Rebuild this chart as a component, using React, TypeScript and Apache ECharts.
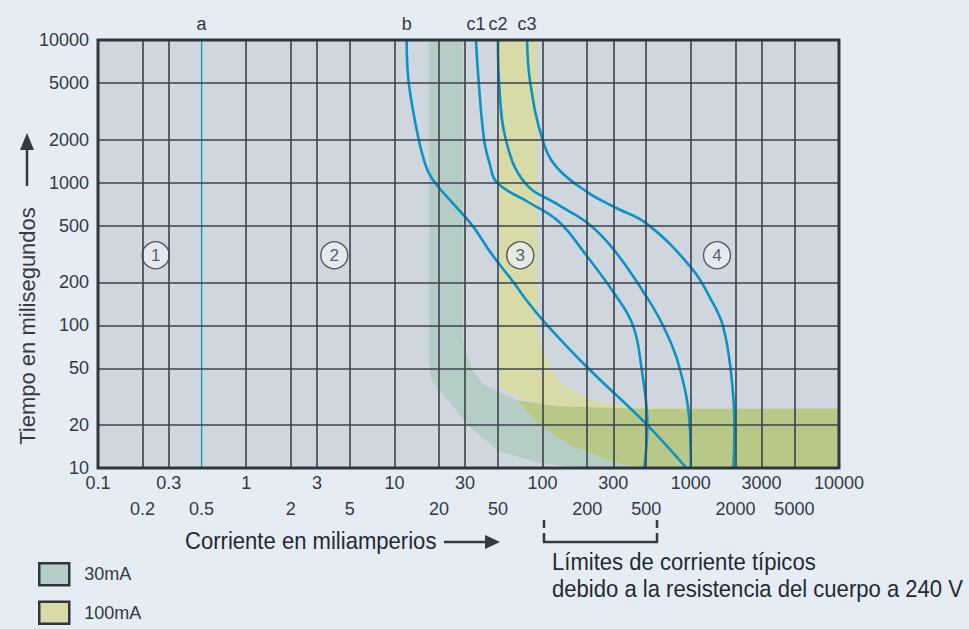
import React, { useEffect, useRef } from 'react';
import * as echarts from 'echarts';

// Axis labels and grid values
const X_LABELS_TOP = [0.1, 0.3, 1, 3, 10, 30, 100, 300, 1000, 3000, 10000];
const X_LABELS_BOTTOM = [0.2, 0.5, 2, 5, 20, 50, 200, 500, 2000, 5000];
const Y_LABELS = [10, 20, 50, 100, 200, 500, 1000, 2000, 5000, 10000];
const X_GRIDLINES = [0.2, 0.3, 1, 2, 3, 5, 10, 20, 30, 50, 100, 200, 300, 500, 1000, 2000, 3000, 5000];
const Y_GRIDLINES = [20, 50, 100, 200, 500, 1000, 2000, 5000];

// Curves (mA, ms)
const LINE_A = [[0.5, 10000], [0.5, 10]];
const CURVE_B = [[12.1, 10000], [12.5, 5000], [14.6, 2000], [16.6, 1247], [18.8, 1000], [25.1, 707], [33.6, 500], [45.3, 316], [63.7, 200], [79.8, 145], [107.5, 100], [203, 50], [509, 20], [933, 10]];
const CURVE_C1 = [[35.5, 10000], [37.1, 5000], [40.3, 2000], [44, 1349], [49.2, 1000], [79.8, 732], [127.8, 536], [197, 310], [304, 168], [407, 100], [465, 50], [509, 20], [485, 10]];
const CURVE_C2 = [[50, 10000], [50.9, 5000], [56.5, 2000], [75.8, 1000], [127.8, 699], [206, 512], [304, 337], [485, 168], [648, 100], [841, 50], [983, 20], [1000, 10]];
const CURVE_C3 = [[78.5, 10000], [82.6, 5000], [100, 2000], [124.2, 1287], [203, 851], [304, 675], [509, 512], [1015, 251], [1372, 151], [1643, 100], [1854, 50], [1970, 20], [1941, 10]];

// Zone markers
const ZONE_NAMES = ['1', '2', '3', '4'];
const ZONE_X = [0.245, 3.93, 70.7, 1502];
const ZONE_Y = [310, 310, 310, 310];

// Shaded bands (mA, ms)
const BAND_30MA = [[17.1, 10000], [17.1, 55.8], [17.6, 41.6], [23.9, 28.4], [31.3, 20], [50, 13.2], [95, 10.8], [197, 10], [465, 10], [313, 10.8], [147.7, 14.7], [95, 20], [67.1, 29.8], [39.8, 38.5], [33.6, 48.5], [29.5, 69.5], [29, 86.4], [29, 10000]];
const BAND_100MA = [[50.9, 10000], [50.9, 40.4], [54.5, 35.2], [63.7, 32.1], [90.1, 28.4], [127.8, 25.9], [1128, 25.1], [1128, 26.3], [420, 26.7], [206, 29.8], [127.8, 40.4], [102.9, 61.1], [91.7, 91.3], [91.7, 10000]];
const BAND_OVERLAP = [[67.1, 29.8], [127.8, 27.1], [509, 26], [10000, 26.1], [10000, 10], [465, 10], [313, 10.8], [147.7, 14.7], [95, 20]];

const FONT = "'Liberation Sans', Arial, sans-serif";
const TEXT = '#333a44';
const DARK = '#2f3640';
const BLUE = '#0a93c6';
const GRID = { left: 98, top: 40, width: 741, height: 428 };

const fmt = (v: number) => String(+Number(v).toPrecision(6));

const polySeries = (name: string, pts: number[][], color: string) => ({
  type: 'custom',
  name,
  z: 1,
  silent: true,
  data: pts,
  encode: { x: 0, y: 1 },
  itemStyle: { color },
  renderItem: (params: any, api: any) => {
    if (params.dataIndex !== 0) return null;
    return {
      type: 'polygon',
      shape: { points: pts.map((p) => api.coord(p)) },
      style: { fill: color },
    };
  },
});

const curveSeries = (label: string, pts: number[][], width: number, smooth: number | boolean) => ({
  type: 'line',
  name: label,
  z: 3,
  silent: true,
  smooth,
  showSymbol: true,
  showAllSymbol: true,
  symbol: 'circle',
  symbolSize: 0.5,
  itemStyle: { color: BLUE, opacity: 0 },
  lineStyle: { color: BLUE, width },
  data: pts.map((p, i) =>
    i === 0
      ? {
          value: p,
          label: {
            show: true,
            position: 'top',
            distance: 7,
            formatter: label,
            fontSize: 18,
            fontFamily: FONT,
            color: TEXT,
            opacity: 1,
          },
        }
      : p
  ),
});

export default function App() {
  const ref = useRef<HTMLDivElement>(null);

  useEffect(() => {
    if (!ref.current) return;
    const chart = echarts.init(ref.current, null, { renderer: 'svg' });

    const axisLabelBase = { fontSize: 18, fontFamily: FONT, color: TEXT, formatter: (v: number) => fmt(v) };

    const option: any = {
      animation: false,
      backgroundColor: '#e5ecf3',
      grid: { ...GRID, show: true, backgroundColor: '#cfd6dd', borderWidth: 0 },
      legend: {
        data: ['30mA', '100mA'],
        orient: 'vertical',
        left: 38,
        top: 562,
        padding: 0,
        itemWidth: 30,
        itemHeight: 22,
        itemGap: 14,
        icon: 'rect',
        selectedMode: false,
        itemStyle: { borderColor: DARK, borderWidth: 2.5 },
        textStyle: { fontSize: 18, fontFamily: FONT, color: TEXT, padding: [0, 0, 0, 10] },
      },
      xAxis: [
        {
          type: 'log',
          logBase: 10,
          min: 0.1,
          max: 10000,
          position: 'bottom',
          axisLine: { show: false },
          axisTick: { show: false },
          splitLine: { show: false },
          axisLabel: { ...axisLabelBase, customValues: X_LABELS_TOP, margin: 6 },
        },
        {
          type: 'log',
          logBase: 10,
          min: 0.1,
          max: 10000,
          position: 'bottom',
          axisLine: { show: false },
          axisTick: { show: false },
          splitLine: { show: false },
          axisLabel: { ...axisLabelBase, customValues: X_LABELS_BOTTOM, margin: 32 },
        },
      ],
      yAxis: {
        type: 'log',
        logBase: 10,
        min: 10,
        max: 10000,
        axisLine: { show: false },
        axisTick: { show: false },
        splitLine: { show: false },
        axisLabel: { ...axisLabelBase, customValues: Y_LABELS, margin: 9 },
      },
      series: [
        polySeries('30mA', BAND_30MA, '#b4cdc5'),
        polySeries('100mA', BAND_100MA, '#d9dba7'),
        polySeries('overlap', BAND_OVERLAP, '#b8c987'),
        {
          type: 'line',
          name: 'grid',
          z: 2,
          silent: true,
          data: [],
          markLine: {
            silent: true,
            symbol: ['none', 'none'],
            label: { show: false },
            lineStyle: { color: '#3b424c', width: 1.6, type: 'solid' },
            emphasis: { disabled: true },
            data: [
              ...X_GRIDLINES.map((v) => ({ xAxis: v })),
              ...Y_GRIDLINES.map((v) => ({ yAxis: v })),
            ],
          },
        },
        curveSeries('a', LINE_A, 1.3, false),
        curveSeries('b', CURVE_B, 2.6, 0.4),
        curveSeries('c1', CURVE_C1, 2.6, 0.4),
        curveSeries('c2', CURVE_C2, 2.6, 0.4),
        curveSeries('c3', CURVE_C3, 2.6, 0.4),
        {
          type: 'scatter',
          z: 4,
          silent: true,
          symbol: 'circle',
          symbolSize: 27,
          itemStyle: { color: '#e8edf3', borderColor: DARK, borderWidth: 1.4 },
          label: { show: true, position: 'inside', formatter: '{b}', fontSize: 17, fontFamily: FONT, color: TEXT },
          data: ZONE_NAMES.map((n, i) => ({ name: n, value: [ZONE_X[i], ZONE_Y[i]] })),
        },
      ],
      graphic: [
        {
          type: 'rect',
          z: 100,
          silent: true,
          shape: { x: GRID.left, y: GRID.top, width: GRID.width, height: GRID.height },
          style: { fill: 'none', stroke: DARK, lineWidth: 3 },
        },
        {
          type: 'text',
          x: 27,
          y: 326,
          rotation: Math.PI / 2,
          silent: true,
          style: { text: 'Tiempo en milisegundos', fontSize: 22, fontFamily: FONT, fill: TEXT, align: 'center', verticalAlign: 'middle', textAlign: 'center', textVerticalAlign: 'middle' },
        },
        { type: 'line', silent: true, shape: { x1: 27, y1: 186, x2: 27, y2: 148 }, style: { stroke: TEXT, lineWidth: 2.5 } },
        { type: 'polygon', silent: true, shape: { points: [[20, 150], [34, 150], [27, 133]] }, style: { fill: TEXT } },
        {
          type: 'text',
          x: 185,
          y: 541,
          scaleX: 0.92,
          silent: true,
          style: { text: 'Corriente en miliamperios', fontSize: 24, fontFamily: FONT, fill: '#222a33', align: 'left', verticalAlign: 'middle', textAlign: 'left', textVerticalAlign: 'middle' },
        },
        { type: 'line', silent: true, shape: { x1: 444, y1: 542, x2: 487, y2: 542 }, style: { stroke: TEXT, lineWidth: 2.5 } },
        { type: 'polygon', silent: true, shape: { points: [[485, 535], [485, 549], [500, 542]] }, style: { fill: TEXT } },
        { type: 'line', silent: true, shape: { x1: 544, y1: 520, x2: 544, y2: 528 }, style: { stroke: TEXT, lineWidth: 2.5 } },
        { type: 'line', silent: true, shape: { x1: 657, y1: 520, x2: 657, y2: 528 }, style: { stroke: TEXT, lineWidth: 2.5 } },
        { type: 'polyline', silent: true, shape: { points: [[544, 533], [544, 542], [657, 542], [657, 533]] }, style: { stroke: TEXT, lineWidth: 2.5, fill: 'none' } },
        {
          type: 'text',
          x: 552,
          y: 562,
          scaleX: 0.92,
          silent: true,
          style: { text: 'Límites de corriente típicos', fontSize: 24, fontFamily: FONT, fill: '#222a33', align: 'left', verticalAlign: 'middle', textAlign: 'left', textVerticalAlign: 'middle' },
        },
        {
          type: 'text',
          x: 552,
          y: 589,
          scaleX: 0.92,
          silent: true,
          style: { text: 'debido a la resistencia del cuerpo a 240 V', fontSize: 24, fontFamily: FONT, fill: '#222a33', align: 'left', verticalAlign: 'middle', textAlign: 'left', textVerticalAlign: 'middle' },
        },
      ],
    };

    chart.setOption(option);
    return () => chart.dispose();
  }, []);

  return <div ref={ref} style={{ position: 'fixed', left: 0, top: 0, width: 969, height: 629 }} />;
}
